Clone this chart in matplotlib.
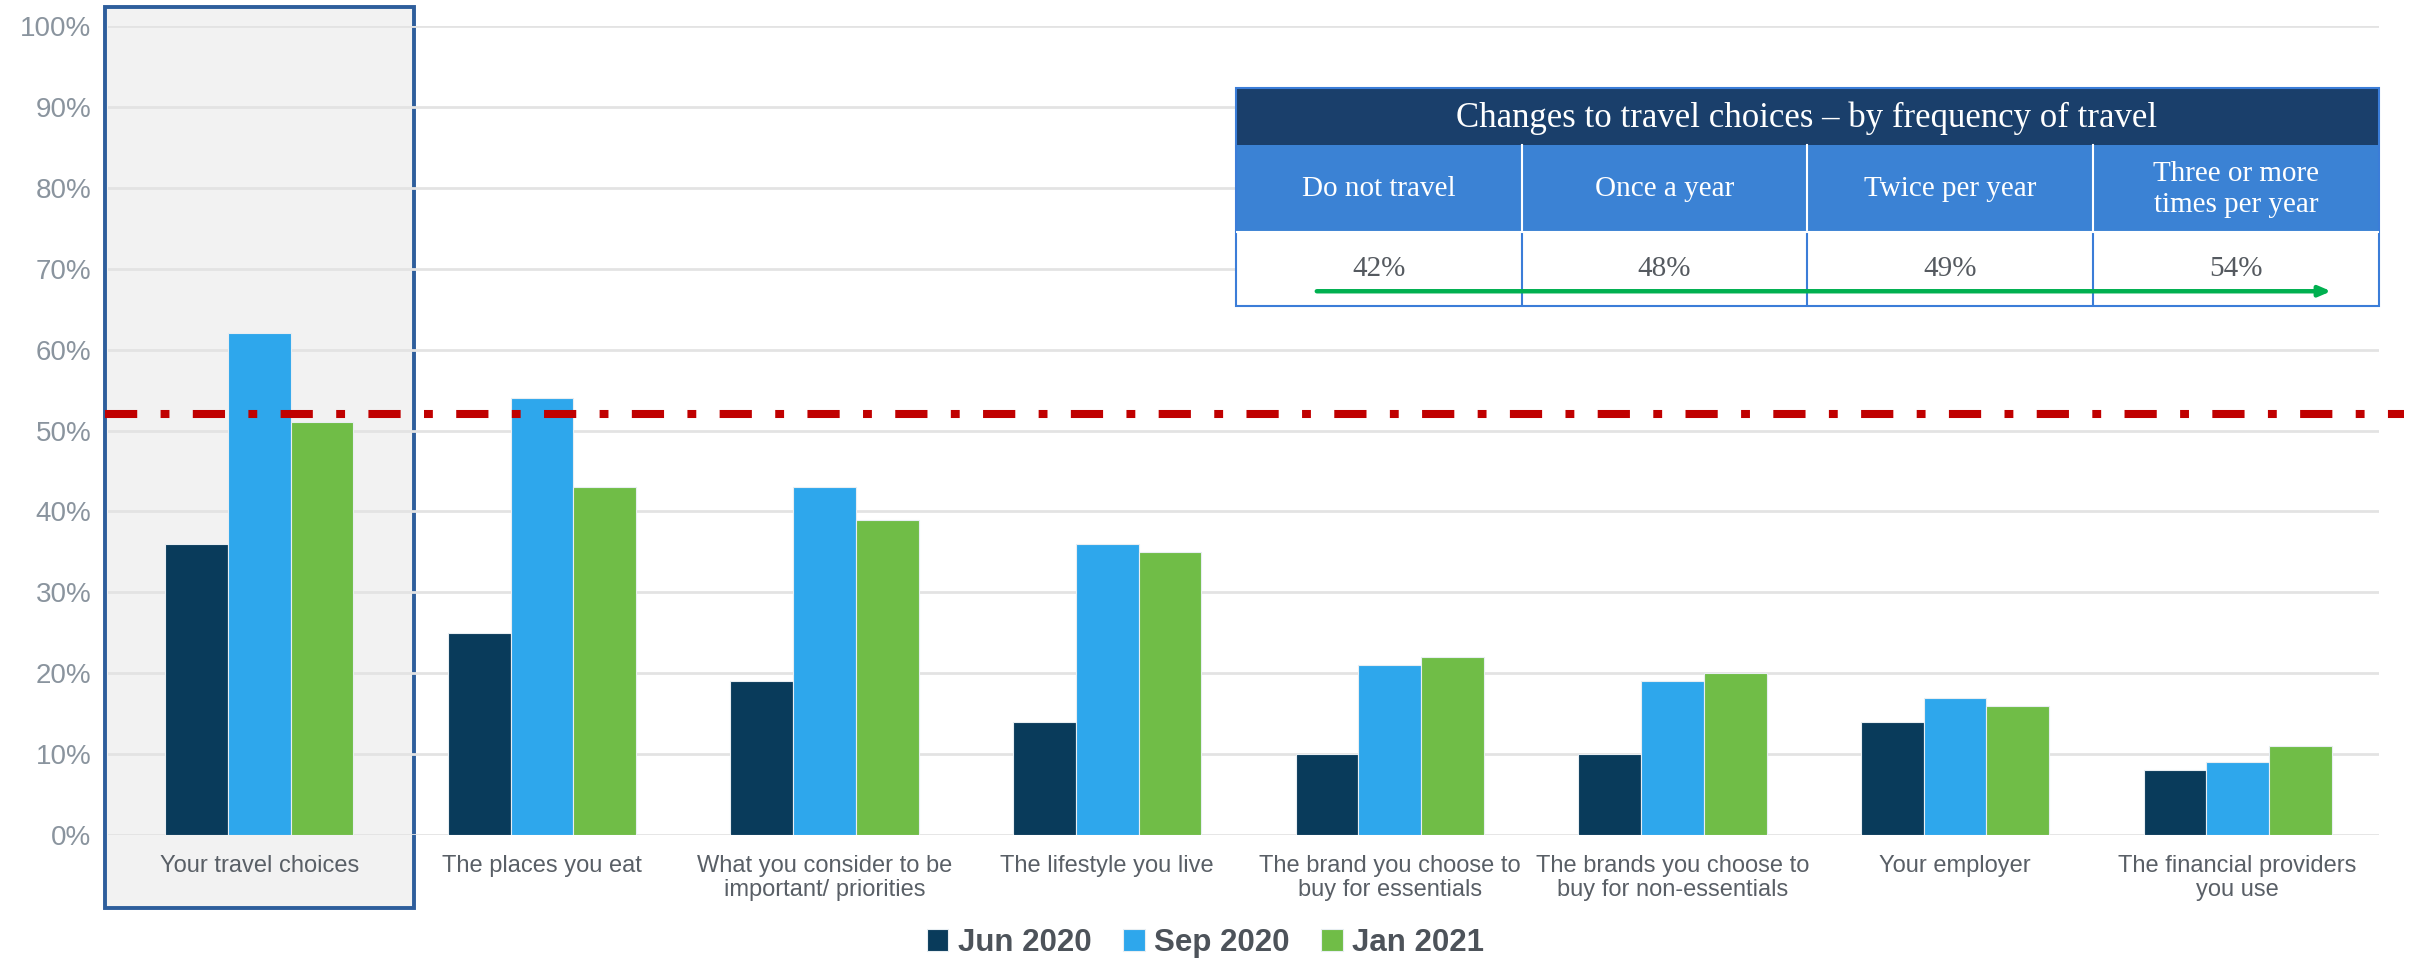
import matplotlib.pyplot as plt
from matplotlib.patches import Rectangle
import numpy as np

categories = [
    "Your travel choices",
    "The places you eat",
    "What you consider to be\nimportant/ priorities",
    "The lifestyle you live",
    "The brand you choose to\nbuy for essentials",
    "The brands you choose to\nbuy for non-essentials",
    "Your employer",
    "The financial providers\nyou use",
]
jun_2020 = [36, 25, 19, 14, 10, 10, 14, 8]
sep_2020 = [62, 54, 43, 36, 21, 19, 17, 9]
jan_2021 = [51, 43, 39, 35, 22, 20, 16, 11]
series_names = ["Jun 2020", "Sep 2020", "Jan 2021"]
colors = ["#093b5b", "#2ea7ec", "#70bd47"]
threshold = 52

freq_labels = ["Do not travel", "Once a year", "Twice per year",
               "Three or more\ntimes per year"]
freq_values = [42, 48, 49, 54]
table_title = "Changes to travel choices \u2013 by frequency of travel"

plt.rcParams['font.family'] = ['Liberation Sans', 'DejaVu Sans']

fig = plt.figure(figsize=(24.25, 9.6), dpi=100)
ax = fig.add_axes([0.0445, 0.130, 0.9365, 0.843])

x = np.arange(len(categories))
w = 0.222
for i, (vals, name, c) in enumerate(zip([jun_2020, sep_2020, jan_2021], series_names, colors)):
    ax.bar(x + (i - 1) * w, vals, width=w, color=c, edgecolor="#e8eef2",
           linewidth=0.8, label=name, zorder=3)

# highlight box around the first category
ax.add_patch(Rectangle((-0.547, -9.0), 1.095, 111.3, facecolor="#f2f2f2",
                       edgecolor="#2e5e9c", linewidth=2.8, clip_on=False, zorder=0))

# average reference line
ax.plot([-0.547, 7.59], [threshold, threshold], color="#c00000", linewidth=5.8,
        linestyle=(0, (4, 2.9, 1.1, 2.9)), clip_on=False, zorder=4)

ax.set_xlim(-0.536, 7.5)
ax.set_ylim(0, 100)
ax.set_yticks(range(0, 101, 10))
ax.set_yticklabels([f"{v}%" for v in range(0, 101, 10)], fontsize=20, color="#8a949e")
ax.set_xticks(x)
ax.set_xticklabels(categories, fontsize=17, color="#595f66", linespacing=1.15)
ax.tick_params(length=0)
ax.tick_params(axis="x", pad=14)
ax.tick_params(axis="y", pad=12)
ax.grid(axis="y", color="#e3e3e3", linewidth=2, zorder=1)
ax.set_axisbelow(True)
for s in ax.spines.values():
    s.set_visible(False)
ax.patch.set_alpha(0)

leg = fig.legend(loc="center", bbox_to_anchor=(0.497, 0.018), ncol=3, frameon=False,
                 prop={"size": 22.5, "weight": "bold"}, handlelength=0.7,
                 handleheight=0.7, handletextpad=0.3, columnspacing=1.0)
for t in leg.get_texts():
    t.set_color("#4d535a")

# frequency table
tab = fig.add_axes([0.5097, 0.681, 0.4713, 0.227])
tab.set_xlim(0, 1143)
tab.set_ylim(218, 0)
tab.axis("off")
col_w = 1143 / 4
tab.add_patch(Rectangle((0, 0), 1143, 57, facecolor="#1a3f6b", edgecolor="none"))
tab.add_patch(Rectangle((0, 57), 1143, 87, facecolor="#3b82d4", edgecolor="none"))
tab.add_patch(Rectangle((0, 144), 1143, 74, facecolor="white", edgecolor="none"))
tab.text(571, 30, table_title, ha="center", va="center", color="white",
         fontsize=25, family="Liberation Serif")
for j, (lab, v) in enumerate(zip(freq_labels, freq_values)):
    cx = col_w * (j + 0.5)
    tab.text(cx, 101, lab, ha="center", va="center", color="white",
             fontsize=21, family="Liberation Serif", linespacing=1.25)
    tab.text(cx, 181, f"{v}%", ha="center", va="center", color="#555a60",
             fontsize=21, family="Liberation Serif")
    if j > 0:
        tab.plot([col_w * j, col_w * j], [57, 144], color="white", linewidth=1.5)
        tab.plot([col_w * j, col_w * j], [144, 218], color="#3b7dd8", linewidth=1.5)
tab.plot([0, 1143], [144, 144], color="white", linewidth=1.5)
tab.add_patch(Rectangle((0, 0), 1143, 218, facecolor="none", edgecolor="#3b7dd8",
                        linewidth=1.5, clip_on=False))
tab.annotate("", xy=(1098, 203), xytext=(78, 203),
             arrowprops=dict(arrowstyle="-|>,head_length=0.7,head_width=0.3",
                             color="#00b050", linewidth=3.2))

fig.savefig("out.png", dpi=100)
